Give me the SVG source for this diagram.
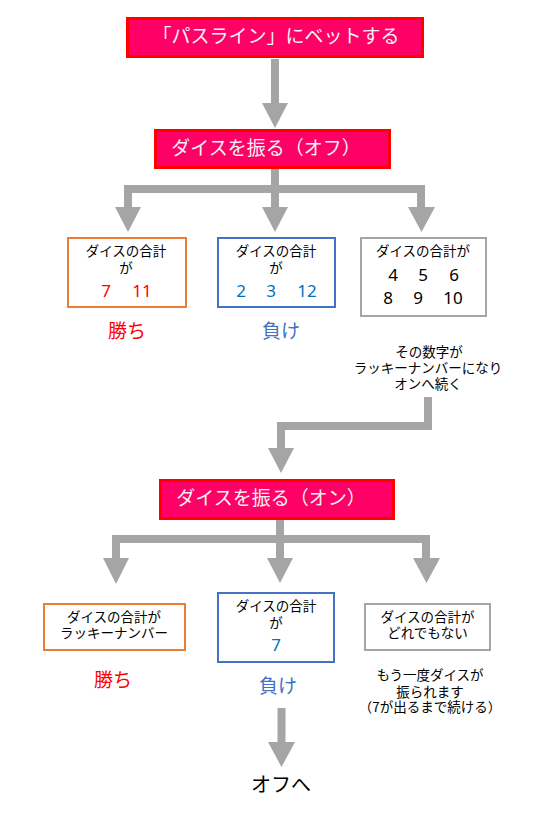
<svg xmlns="http://www.w3.org/2000/svg" width="559" height="814" viewBox="0 0 559 814">
<style>
text{font-family:"Noto Sans CJK JP","Noto Sans",sans-serif;text-anchor:middle}
.hd{fill:#FF0066;stroke:#FF0000;stroke-width:3}
.hdt{fill:#F2F2F2;font-size:19px}
.box{fill:#FFFFFF;stroke-width:2}
.or{stroke:#ED7D31}.bl{stroke:#4472C4}.gr{stroke:#A5A5A5}
.t{fill:#000;font-size:13.5px}
.num{font-size:17px;font-family:"Noto Sans","Liberation Sans",sans-serif}
.red{fill:#FF0000}.nblue{fill:#0070C0}
.res{font-size:19px}
.win{fill:#FF0000}.lose{fill:#4472C4}
.sh{fill:none;stroke:#A5A5A5;stroke-width:8;stroke-linejoin:miter}
.ah{fill:#A5A5A5}
</style>
<g id="connectors">
<path class="sh" d="M275 59V104"/>
<polygon class="ah" points="262,103 288,103 275,128"/>
<path class="sh" d="M275 169V208"/>
<path class="sh" d="M128 208V189H421V208"/>
<polygon class="ah" points="115,207 141,207 128,232"/>
<polygon class="ah" points="262,207 288,207 275,232"/>
<polygon class="ah" points="408,207 435,207 421.5,232"/>
<path class="sh" d="M428 397V426H281V449"/>
<polygon class="ah" points="268,448 294,448 281,473"/>
<path class="sh" d="M280 520V559"/>
<path class="sh" d="M116 559V539H426V559"/>
<polygon class="ah" points="103,558 129,558 116,584"/>
<polygon class="ah" points="267,558 293,558 280,583"/>
<polygon class="ah" points="413,558 440,558 426.5,583"/>
<path class="sh" d="M281.5 708V743"/>
<polygon class="ah" points="268,742 295,742 281.5,767"/>
</g>
<g id="bet">
<rect class="hd" x="127.5" y="18.5" width="295" height="38"/>
<text class="hdt" x="276" y="43">「パスライン」にベットする</text>
</g>
<g id="roll-off">
<rect class="hd" x="155.5" y="130.5" width="234" height="37"/>
<text class="hdt" x="266" y="155">ダイスを振る（オフ）</text>
</g>
<g id="off-win">
<rect class="box or" x="68" y="238" width="118" height="69"/>
<text class="t" x="126" y="256">ダイスの合計</text>
<text class="t" x="126" y="273">が</text>
<text class="num red" x="106" y="297">7</text>
<text class="num red" x="142" y="297">11</text>
<text class="res win" x="127" y="338">勝ち</text>
</g>
<g id="off-lose">
<rect class="box bl" x="218" y="238" width="117" height="69"/>
<text class="t" x="276" y="256">ダイスの合計</text>
<text class="t" x="276" y="273">が</text>
<text class="num nblue" x="241" y="297">2</text>
<text class="num nblue" x="271" y="297">3</text>
<text class="num nblue" x="307" y="297">12</text>
<text class="res lose" x="281" y="338">負け</text>
</g>
<g id="off-point">
<rect class="box gr" x="361" y="238" width="125" height="78"/>
<text class="t" x="423" y="256">ダイスの合計が</text>
<text class="num" x="393" y="281">4</text>
<text class="num" x="423" y="281">5</text>
<text class="num" x="454" y="281">6</text>
<text class="num" x="388" y="304">8</text>
<text class="num" x="418" y="304">9</text>
<text class="num" x="453" y="304">10</text>
<text class="t" x="429" y="357">その数字が</text>
<text class="t" x="428" y="373">ラッキーナンバーになり</text>
<text class="t" x="428" y="389">オンへ続く</text>
</g>
<g id="roll-on">
<rect class="hd" x="160.5" y="480.5" width="233" height="38"/>
<text class="hdt" x="271" y="505">ダイスを振る（オン）</text>
</g>
<g id="on-win">
<rect class="box or" x="44" y="604" width="141" height="46"/>
<text class="t" x="114" y="622">ダイスの合計が</text>
<text class="t" x="114" y="638">ラッキーナンバー</text>
<text class="res win" x="113" y="687">勝ち</text>
</g>
<g id="on-lose">
<rect class="box bl" x="218" y="593" width="116" height="69"/>
<text class="t" x="276" y="611">ダイスの合計</text>
<text class="t" x="276" y="628">が</text>
<text class="num nblue" x="276" y="651">7</text>
<text class="res lose" x="278" y="693">負け</text>
</g>
<g id="on-other">
<rect class="box gr" x="365" y="604" width="125" height="46"/>
<text class="t" x="427.5" y="622">ダイスの合計が</text>
<text class="t" x="427.5" y="638">どれでもない</text>
<text class="t" x="430" y="680">もう一度ダイスが</text>
<text class="t" x="430" y="697">振られます</text>
<text class="t" x="430" y="712">（7が出るまで続ける）</text>
</g>
<g id="to-off">
<text x="281" y="792" style="font-size:20px;fill:#000">オフへ</text>
</g>
</svg>
